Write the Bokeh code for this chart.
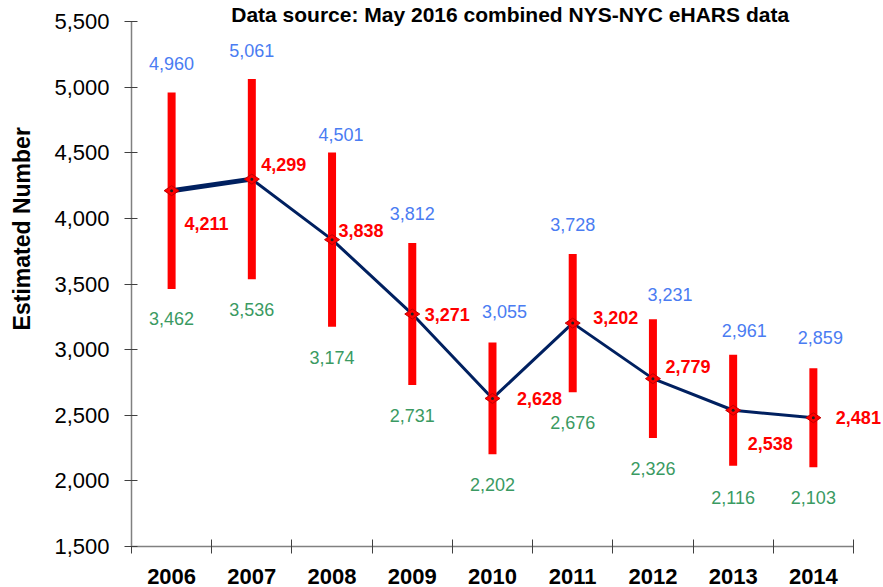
import math
from bokeh.plotting import figure
from bokeh.models import (ColumnDataSource, LabelSet, Label, FixedTicker,
                          NumeralTickFormatter, Range1d)
from bokeh.core.properties import value
from bokeh.embed import file_html
from bokeh.resources import INLINE

# ---- data ----
years = ["2006", "2007", "2008", "2009", "2010", "2011", "2012", "2013", "2014"]
estimate = [4211, 4299, 3838, 3271, 2628, 3202, 2779, 2538, 2481]
upper = [4960, 5061, 4501, 3812, 3055, 3728, 3231, 2961, 2859]
lower = [3462, 3536, 3174, 2731, 2202, 2676, 2326, 2116, 2103]
y_ticks = [1500, 2000, 2500, 3000, 3500, 4000, 4500, 5000, 5500]

# ---- label placement (screen px; dy positive = down) ----
up_dx = [0, 0, 9, 0, 12, 0, 17, 11, 7]
up_dy = [-29, -29, -18, -30, -31, -30, -25, -24, -31]
lo_dx = [0, 0, 0, 0, 0, 0, 0, 0, 0]
lo_dy = [30, 30, 31, 31, 30, 30, 30, 32, 30]
est_dx = [35, 32, 29, 35, 47, 43, 35, 37, 45]
est_dy = [33, -15, -9, 0, 0, -6, -12, 33, 0]

FONT = "Liberation Sans"
RED = "#ff0000"
BLUE = "#4a7cf2"
GREEN = "#3a9a62"
NAVY = "#002060"
AXIS = "#808080"

W, H = 883, 587
LEFT, BOTTOM, RIGHT_PAD = 131, 41, 1
PX_PER_CAT = 80.22
PX_PER_UNIT = 0.13125

x = [i + 1 for i in range(len(years))]
fmt = lambda v: f"{v:,}"

src = ColumnDataSource(dict(
    x=x, year=years, est=estimate, up=upper, lo=lower,
    est_t=[fmt(v) for v in estimate], up_t=[fmt(v) for v in upper], lo_t=[fmt(v) for v in lower],
    up_dx=up_dx, up_dy=[-d for d in up_dy],
    lo_dx=lo_dx, lo_dy=[-d for d in lo_dy],
    est_dx=est_dx, est_dy=[-d for d in est_dy],
))

frame_w = W - LEFT - RIGHT_PAD
frame_h = H - BOTTOM
x_lo = x[0] - 0.5
x_hi = x_lo + frame_w / PX_PER_CAT
y_lo = y_ticks[0]
y_hi = y_lo + frame_h / PX_PER_UNIT

p = figure(width=W, height=H, output_backend="svg", toolbar_location=None,
           x_range=Range1d(x_lo, x_hi), y_range=Range1d(y_lo, y_hi),
           min_border_left=LEFT, min_border_right=RIGHT_PAD, min_border_top=0,
           min_border_bottom=BOTTOM)
p.outline_line_color = None
p.xgrid.visible = False
p.ygrid.visible = False
p.background_fill_color = "white"
p.border_fill_color = "white"

# x axis: labels at category centres, ticks at category boundaries
xa = p.xaxis[0]
xa.bounds = (x[0] - 0.5, x[-1] + 0.5)
xa.ticker = FixedTicker(ticks=x, minor_ticks=[v - 0.5 for v in x] + [x[-1] + 0.5])
xa.major_label_overrides = {xi: yr for xi, yr in zip(x, years)}
xa.major_tick_line_color = None
xa.major_tick_in = 0
xa.major_tick_out = 0
xa.major_label_standoff = 15
xa.major_label_text_font = FONT
xa.major_label_text_font_size = "22px"
xa.major_label_text_font_style = "bold"
xa.major_label_text_color = "black"
xa.minor_tick_in = 7
xa.minor_tick_out = 7
xa.minor_tick_line_color = "#404040"
xa.axis_line_color = AXIS
xa.axis_line_width = 1.5

ya = p.yaxis[0]
ya.bounds = (y_ticks[0], y_ticks[-1])
ya.ticker = FixedTicker(ticks=y_ticks)
ya.formatter = NumeralTickFormatter(format="0,0")
ya.major_tick_in = 6
ya.major_tick_out = 7
ya.major_tick_line_color = "#404040"
ya.minor_tick_line_color = None
ya.axis_line_color = AXIS
ya.axis_line_width = 1.5
ya.major_label_standoff = 15
ya.major_label_text_font = FONT
ya.major_label_text_font_size = "22px"
ya.major_label_text_color = "black"
ya.axis_label = "\u00a0" * 14 + "Estimated Number"
ya.axis_label_text_font = FONT
ya.axis_label_text_font_size = "23px"
ya.axis_label_text_font_style = "bold"
ya.axis_label_text_color = "black"
ya.axis_label_standoff = 16

# marks
p.line("x", "est", source=src, line_color=NAVY, line_width=3)
p.line(x[:2], estimate[:2], line_color=NAVY, line_width=5)
p.segment(x0="x", y0="lo", x1="x", y1="up", source=src, line_color=RED, line_width=8)
p.scatter("x", "est", source=src, marker="diamond", size=15, angle=math.pi / 2,
          fill_color=RED, line_color="#c00000", line_width=1)
p.scatter("x", "est", source=src, marker="circle", size=3, fill_color="#202020", line_color=None)

# value labels
p.add_layout(LabelSet(x="x", y="up", text="up_t", source=src, x_offset="up_dx", y_offset="up_dy",
                      text_align="center", text_baseline="middle", text_font=value(FONT),
                      text_font_size="18px", text_color=BLUE))
p.add_layout(LabelSet(x="x", y="lo", text="lo_t", source=src, x_offset="lo_dx", y_offset="lo_dy",
                      text_align="center", text_baseline="middle", text_font=value(FONT),
                      text_font_size="18px", text_color=GREEN))
p.add_layout(LabelSet(x="x", y="est", text="est_t", source=src, x_offset="est_dx", y_offset="est_dy",
                      text_align="center", text_baseline="middle", text_font=value(FONT),
                      text_font_size="18px", text_font_style="bold", text_color=RED))

# chart title (inside the frame, above the 5,500 line)
p.add_layout(Label(x=5.22, y=y_ticks[-1], y_offset=7,
                   text="Data source: May 2016 combined NYS-NYC eHARS data",
                   text_align="center", text_baseline="middle", text_font=FONT,
                   text_font_size="21px", text_font_style="bold", text_color="black"))

open("out.html", "w").write(file_html(p, INLINE))
